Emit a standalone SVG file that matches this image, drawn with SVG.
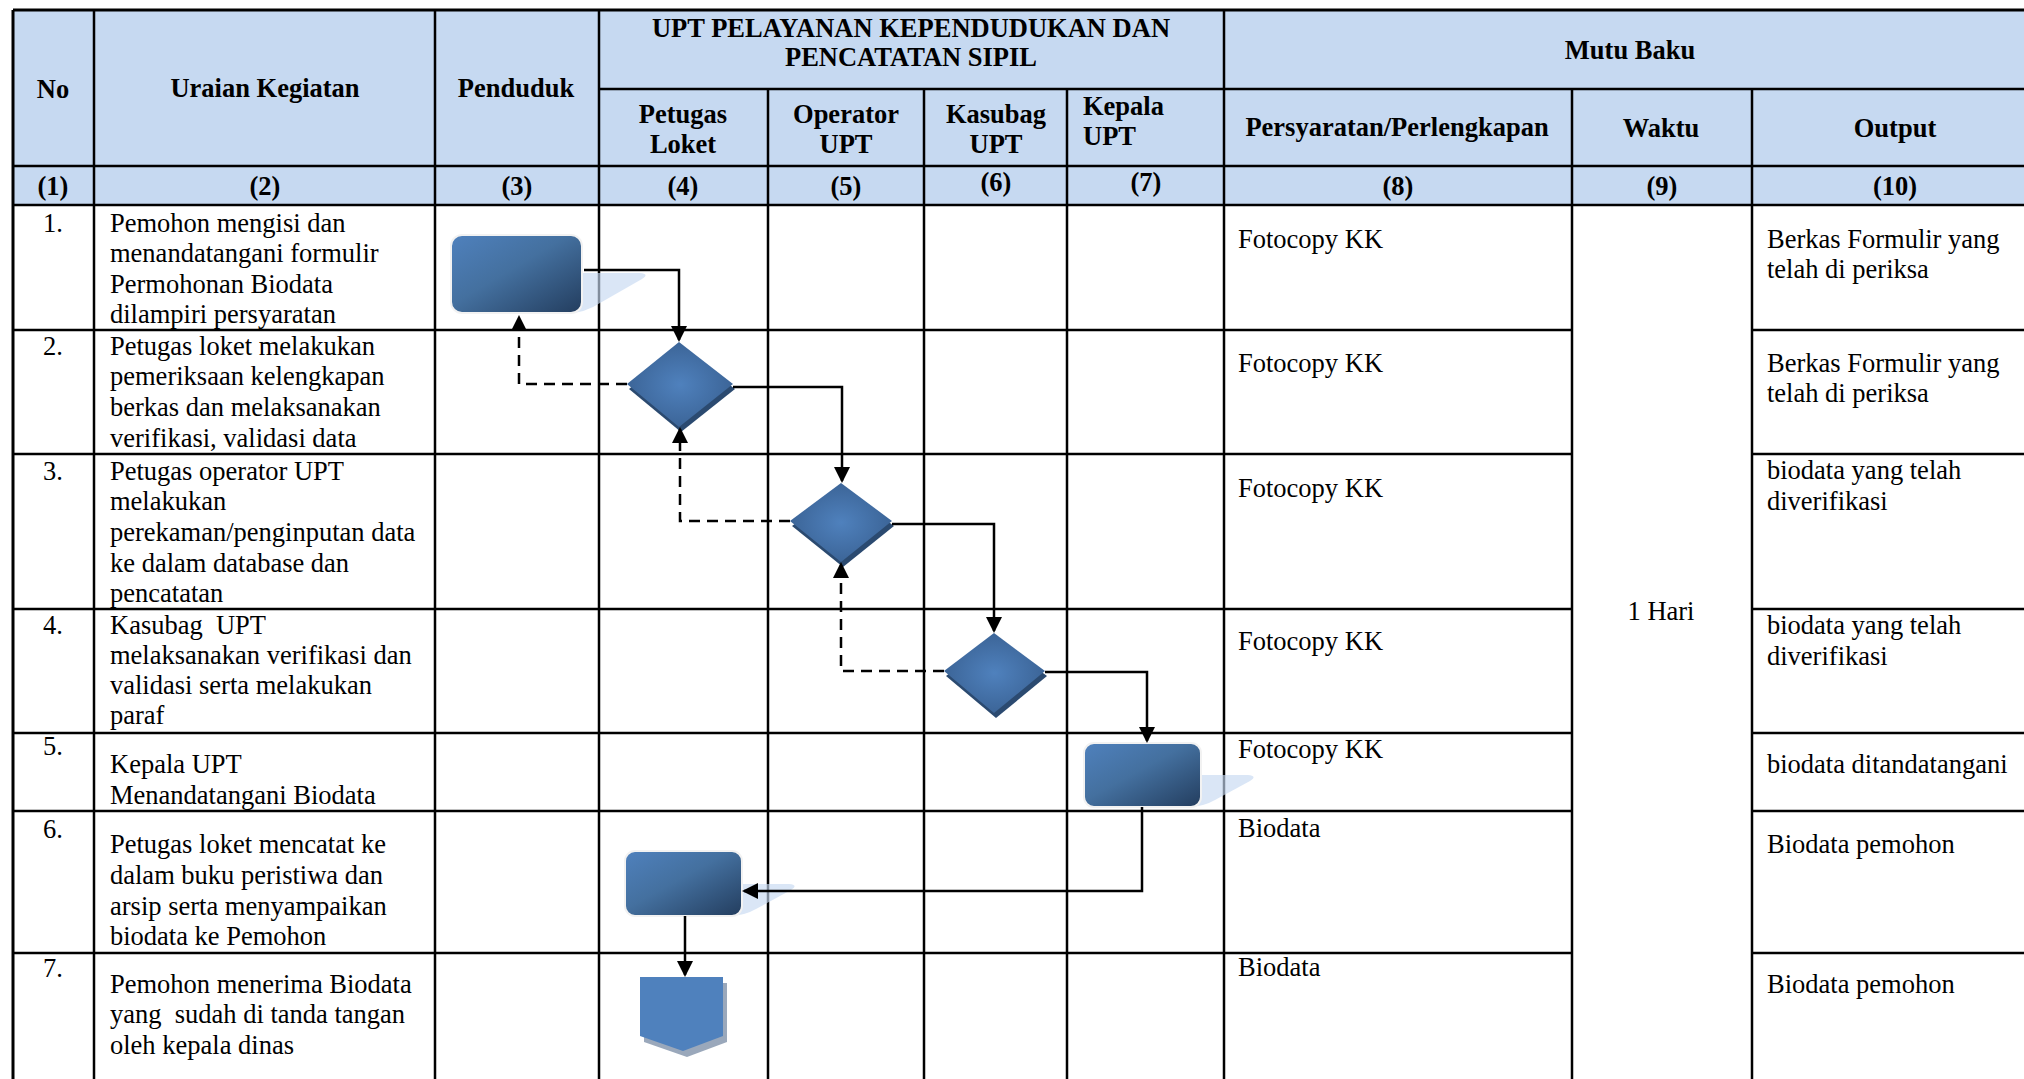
<svg xmlns="http://www.w3.org/2000/svg" width="2024" height="1079" viewBox="0 0 2024 1079">
<defs>
<style>
text{font-family:"Liberation Serif","Times New Roman",serif;font-size:26.5px;fill:#000}
.b{font-weight:bold}
.c{text-anchor:middle}
.pre{white-space:pre}
.g{stroke:#000;stroke-width:2.5;fill:none}
.o{stroke:#000;stroke-width:3;fill:none}
.hd{fill:#c6d9f1}
.cn{stroke:#000;stroke-width:2.5;fill:none;marker-end:url(#ah)}
.ds{stroke-dasharray:11 7}
.proc{fill:url(#pg);stroke:#f2f2f2;stroke-width:2}
.psh{fill:#c6d9f1;opacity:0.65}
.dm{fill:url(#dg)}
.dsh{fill:#2b4a70}
</style>
<linearGradient id="pg" x1="0" y1="0" x2="1" y2="1">
<stop offset="0" stop-color="#4f81bd"/>
<stop offset="0.45" stop-color="#44709f"/>
<stop offset="1" stop-color="#233d5e"/>
</linearGradient>
<radialGradient id="dg" cx="0.5" cy="0.5" r="0.6">
<stop offset="0" stop-color="#4f81bd"/>
<stop offset="1" stop-color="#385f90"/>
</radialGradient>
<marker id="ah" viewBox="0 0 16 16" markerWidth="16" markerHeight="16" refX="14" refY="8" orient="auto" markerUnits="userSpaceOnUse">
<path d="M0,0 L16,8 L0,16 Z" fill="#000"/>
</marker>
</defs>

<g id="header-fill">
<rect class="hd" x="13" y="10" width="2011" height="195"/>
</g>

<g id="grid">
<line class="o" x1="13" y1="10" x2="2024" y2="10"/>
<line class="g" x1="599" y1="89" x2="2024" y2="89"/>
<line class="g" x1="13" y1="166" x2="2024" y2="166"/>
<line class="g" x1="13" y1="205" x2="2024" y2="205"/>
<path class="g" d="M13,330 H1572 M1752,330 H2024 M13,454 H1572 M1752,454 H2024 M13,609 H1572 M1752,609 H2024 M13,733 H1572 M1752,733 H2024 M13,811 H1572 M1752,811 H2024 M13,953 H1572 M1752,953 H2024"/>
<line class="o" x1="13" y1="10" x2="13" y2="1079"/>
<path class="g" d="M94,10 V1079 M435,10 V1079 M599,10 V1079 M1224,10 V1079 M768,89 V1079 M924,89 V1079 M1067,89 V1079 M1572,89 V1079 M1752,89 V1079"/>
</g>

<g id="header-text">
<text class="b c" x="53" y="98">No</text>
<text class="b c" x="265" y="97">Uraian Kegiatan</text>
<text class="b c" x="516" y="97">Penduduk</text>
<text class="b c" x="911" y="37">UPT PELAYANAN KEPENDUDUKAN DAN</text>
<text class="b c" x="911" y="66">PENCATATAN SIPIL</text>
<text class="b c" x="1630" y="59">Mutu Baku</text>
<text class="b c" x="683" y="123">Petugas</text>
<text class="b c" x="683" y="153">Loket</text>
<text class="b c" x="846" y="123">Operator</text>
<text class="b c" x="846" y="153">UPT</text>
<text class="b c" x="996" y="123">Kasubag</text>
<text class="b c" x="996" y="153">UPT</text>
<text class="b" x="1083" y="115">Kepala</text>
<text class="b" x="1083" y="145">UPT</text>
<text class="b c" x="1397" y="136">Persyaratan/Perlengkapan</text>
<text class="b c" x="1661" y="137">Waktu</text>
<text class="b c" x="1895" y="137">Output</text>
<text class="b c" x="53" y="195">(1)</text>
<text class="b c" x="265" y="195">(2)</text>
<text class="b c" x="517" y="195">(3)</text>
<text class="b c" x="683" y="195">(4)</text>
<text class="b c" x="846" y="195">(5)</text>
<text class="b c" x="996" y="191">(6)</text>
<text class="b c" x="1146" y="191">(7)</text>
<text class="b c" x="1398" y="195">(8)</text>
<text class="b c" x="1662" y="195">(9)</text>
<text class="b c" x="1895" y="195">(10)</text>
</g>

<g id="row1-text">
<text x="43" y="232">1.</text>
<text x="110" y="232">Pemohon mengisi dan</text>
<text x="110" y="262">menandatangani formulir</text>
<text x="110" y="293">Permohonan Biodata</text>
<text x="110" y="323">dilampiri persyaratan</text>
<text x="1238" y="248">Fotocopy KK</text>
<text x="1767" y="248">Berkas Formulir yang</text>
<text x="1767" y="278">telah di periksa</text>
</g>
<g id="row2-text">
<text x="43" y="355">2.</text>
<text x="110" y="355">Petugas loket melakukan</text>
<text x="110" y="385">pemeriksaan kelengkapan</text>
<text x="110" y="416">berkas dan melaksanakan</text>
<text x="110" y="447">verifikasi, validasi data</text>
<text x="1238" y="372">Fotocopy KK</text>
<text x="1767" y="372">Berkas Formulir yang</text>
<text x="1767" y="402">telah di periksa</text>
</g>
<g id="row3-text">
<text x="43" y="480">3.</text>
<text x="110" y="480">Petugas operator UPT</text>
<text x="110" y="510">melakukan</text>
<text x="110" y="541">perekaman/penginputan data</text>
<text x="110" y="572">ke dalam database dan</text>
<text x="110" y="602">pencatatan</text>
<text x="1238" y="497">Fotocopy KK</text>
<text x="1767" y="479">biodata yang telah</text>
<text x="1767" y="510">diverifikasi</text>
</g>
<g id="row4-text">
<text x="43" y="634">4.</text>
<text class="pre" x="110" y="634">Kasubag  UPT</text>
<text x="110" y="664">melaksanakan verifikasi dan</text>
<text x="110" y="694">validasi serta melakukan</text>
<text x="110" y="724">paraf</text>
<text x="1238" y="650">Fotocopy KK</text>
<text x="1767" y="634">biodata yang telah</text>
<text x="1767" y="665">diverifikasi</text>
</g>
<g id="row5-text">
<text x="43" y="755">5.</text>
<text x="110" y="773">Kepala UPT</text>
<text x="110" y="804">Menandatangani Biodata</text>
<text x="1238" y="758">Fotocopy KK</text>
<text x="1767" y="773">biodata ditandatangani</text>
</g>
<g id="row6-text">
<text x="43" y="838">6.</text>
<text x="110" y="853">Petugas loket mencatat ke</text>
<text x="110" y="884">dalam buku peristiwa dan</text>
<text x="110" y="915">arsip serta menyampaikan</text>
<text x="110" y="945">biodata ke Pemohon</text>
<text x="1238" y="837">Biodata</text>
<text x="1767" y="853">Biodata pemohon</text>
</g>
<g id="row7-text">
<text x="43" y="977">7.</text>
<text x="110" y="993">Pemohon menerima Biodata</text>
<text class="pre" x="110" y="1023">yang  sudah di tanda tangan</text>
<text x="110" y="1054">oleh kepala dinas</text>
<text x="1238" y="976">Biodata</text>
<text x="1767" y="993">Biodata pemohon</text>
</g>
<g id="waktu">
<text class="c" x="1661" y="620">1 Hari</text>
</g>

<g id="node-start">
<path class="psh" d="M580,273 H640 Q650,274 642,279 L600,303 Q585,313 568,313 Z"/>
<rect class="proc" x="451" y="235" width="131" height="78" rx="11"/>
</g>
<g id="node-d1">
<polygon class="dsh" points="681,347 735,389 681,432 629,389"/>
<polygon class="dm" points="679,342 733,384 679,427 627,384"/>
</g>
<g id="node-d2">
<polygon class="dsh" points="843,488 894,526 843,567 792,526"/>
<polygon class="dm" points="841,483 892,521 841,562 790,521"/>
</g>
<g id="node-d3">
<polygon class="dsh" points="996,638 1047,676 996,718 946,676"/>
<polygon class="dm" points="994,633 1045,671 994,713 944,671"/>
</g>
<g id="node-kepala">
<path class="psh" d="M1199,775 H1248 Q1258,776 1250,781 L1215,800 Q1203,807 1188,807 Z"/>
<rect class="proc" x="1084" y="743" width="117" height="64" rx="10"/>
</g>
<g id="node-loket">
<path class="psh" d="M740,884 H789 Q799,885 791,890 L756,909 Q744,916 729,916 Z"/>
<rect class="proc" x="625" y="851" width="117" height="65" rx="10"/>
</g>
<g id="node-end">
<polygon fill="#9aa8bb" points="644,983 727,983 727,1042 687,1057 644,1042"/>
<polygon fill="#4f81bd" points="640,977 723,977 723,1036 683,1051 640,1036"/>
</g>

<g id="connectors">
<path class="cn" d="M584,270 H679 V340"/>
<path class="cn ds" d="M627,384 H519 V317"/>
<path class="cn" d="M733,387 H842 V481"/>
<path class="cn ds" d="M790,521 H680 V429"/>
<path class="cn" d="M892,524 H994 V631"/>
<path class="cn ds" d="M944,671 H841 V564"/>
<path class="cn" d="M1045,672 H1147 V741"/>
<path class="cn" d="M1142,807 V891 H744"/>
<path class="cn" d="M685,916 V975"/>
</g>
</svg>
